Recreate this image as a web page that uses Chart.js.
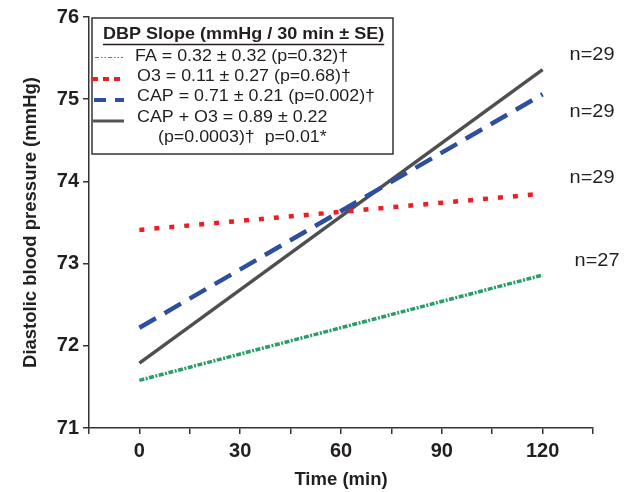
<!DOCTYPE html>
<html>
<head>
<meta charset="utf-8">
<script src="https://cdn.jsdelivr.net/npm/chart.js@4"></script>
<style>
  html, body { margin: 0; padding: 0; background: #fff; }
  #wrap { width: 640px; height: 492px; }
</style>
</head>
<body>
<div id="wrap"><canvas id="grafica" width="640" height="492"></canvas></div>
<script>
// datos
const tiempos = [0, 120];
const faVal = [71.58, 72.86];
const o3Val = [73.41, 73.85];
const capVal = [72.22, 75.06];
const capO3Val = [71.79, 75.36];
const nLabels = ['n=27', 'n=29', 'n=29', 'n=29'];
const xTicks = [0, 30, 60, 90, 120];
const leyendaTitulo = 'DBP Slope (mmHg / 30 min \u00b1 SE)';
const leyendaTextos = [
  'FA = 0.32 \u00b1 0.32 (p=0.32)\u2020',
  'O3 = 0.11 \u00b1 0.27 (p=0.68)\u2020',
  'CAP = 0.71 \u00b1 0.21 (p=0.002)\u2020',
  'CAP + O3 = 0.89 \u00b1 0.22',
  '(p=0.0003)\u2020  p=0.01*'
];

function puntos(vals) {
  return tiempos.map(function(t, i) { return {x: t, y: vals[i]}; });
}

const FUENTE = '"Liberation Sans", Arial, sans-serif';

// etiquetas n= al final de cada linea
const etiquetasN = {
  id: 'etiquetasN',
  afterDatasetsDraw(chart) {
    const ctx = chart.ctx;
    const offs = [[32, -14], [27, -16], [27, 17], [27, -15]];
    ctx.save();
    ctx.font = '19px ' + FUENTE;
    ctx.fillStyle = '#231f20';
    ctx.textBaseline = 'middle';
    ctx.textAlign = 'left';
    chart.data.datasets.forEach(function(ds, i) {
      const meta = chart.getDatasetMeta(i);
      const p = meta.data[meta.data.length - 1];
      ctx.save();
      ctx.translate(p.x + offs[i][0], p.y + offs[i][1]);
      ctx.scale(1.05, 1);
      ctx.fillText(nLabels[i], 0, 0);
      ctx.restore();
    });
    ctx.restore();
  }
};

// leyenda con caja, titulo subrayado
const leyendaCaja = {
  id: 'leyendaCaja',
  afterDraw(chart) {
    const ctx = chart.ctx;
    ctx.save();
    ctx.strokeStyle = '#333';
    ctx.lineWidth = 1.5;
    ctx.fillStyle = '#fff';
    ctx.fillRect(92, 18, 301, 136);
    ctx.strokeRect(92, 18, 301, 136);

    ctx.fillStyle = '#231f20';
    ctx.textBaseline = 'middle';
    ctx.font = 'bold 17px ' + FUENTE;
    ctx.save();
    ctx.translate(103, 34);
    ctx.scale(1.06, 1);
    ctx.fillText(leyendaTitulo, 0, 0);
    const w = ctx.measureText(leyendaTitulo).width * 1.06;
    ctx.restore();
    ctx.lineWidth = 1.5;
    ctx.strokeStyle = '#231f20';
    ctx.beginPath();
    ctx.moveTo(103, 44.5);
    ctx.lineTo(103 + w, 44.5);
    ctx.stroke();

    const muestras = [
      {y: 57.5, color: '#2a9d68', dash: [4, 2, 1.5, 2, 1.5, 2], ancho: 1.2, x0: 95, x1: 123},
      {y: 79, color: '#ee1c24', dash: [6, 5], ancho: 4, x0: 92, x1: 125},
      {y: 100, color: '#2e4ea2', dash: [12, 9], ancho: 4, x0: 94, x1: 124},
      {y: 121, color: '#555555', dash: [], ancho: 3, x0: 93, x1: 124}
    ];
    muestras.forEach(function(m) {
      ctx.strokeStyle = m.color;
      ctx.lineWidth = m.ancho;
      ctx.setLineDash(m.dash);
      ctx.beginPath();
      ctx.moveTo(m.x0, m.y);
      ctx.lineTo(m.x1, m.y);
      ctx.stroke();
    });
    ctx.setLineDash([]);

    ctx.font = '17px ' + FUENTE;
    const filas = [[135, 56], [137, 76], [137, 96], [137, 117], [158, 137]];
    leyendaTextos.forEach(function(t, i) {
      ctx.save();
      ctx.translate(filas[i][0], filas[i][1]);
      ctx.scale(1.05, 1);
      ctx.fillText(t, 0, 0);
      ctx.restore();
    });
    ctx.restore();
  }
};

const data = {
  datasets: [{
    label: 'FA',
    data: puntos(faVal),
    borderColor: '#2a9d68',
    borderWidth: 3.5,
    borderDash: [5, 1.5, 2, 1.5],
    pointRadius: 0,
    tension: 0
  }, {
    label: 'O3',
    data: puntos(o3Val),
    borderColor: '#ee1c24',
    borderWidth: 4.5,
    borderDash: [5, 10],
    pointRadius: 0,
    tension: 0
  }, {
    label: 'CAP',
    data: puntos(capVal),
    borderColor: '#2e4ea2',
    borderWidth: 4.5,
    borderDash: [19, 10],
    pointRadius: 0,
    tension: 0
  }, {
    label: 'CAP + O3',
    data: puntos(capO3Val),
    borderColor: '#4f4f51',
    borderWidth: 3.5,
    pointRadius: 0,
    tension: 0
  }]
};

const config = {
  type: 'line',
  data: data,
  options: {
    responsive: false,
    animation: false,
    layout: { padding: { top: 17, right: 47, left: 0, bottom: 0 } },
    plugins: {
      legend: { display: false },
      tooltip: { enabled: false }
    },
    scales: {
      x: {
        type: 'linear',
        min: -15,
        max: 135,
        afterFit: function(scale) { scale.height = 64; },
        ticks: {
          stepSize: 15,
          padding: 5,
          color: '#231f20',
          font: { family: FUENTE, size: 20, weight: 'bold' },
          callback: function(v) { return xTicks.indexOf(v) >= 0 ? String(v) : ''; }
        },
        grid: { drawOnChartArea: false, tickLength: 6, color: '#333', lineWidth: 1.5 },
        border: { display: true, color: '#333', width: 1.5 },
        title: {
          display: true,
          text: 'Time (min)',
          color: '#231f20',
          font: { family: FUENTE, size: 18.5, weight: 'bold' },
          padding: { top: 0, bottom: 1 }
        }
      },
      y: {
        min: 71,
        max: 76,
        afterFit: function(scale) { scale.width = 89; },
        ticks: {
          stepSize: 1,
          padding: 4,
          color: '#231f20',
          font: { family: FUENTE, size: 20, weight: 'bold' }
        },
        grid: { drawOnChartArea: false, tickLength: 6, color: '#333', lineWidth: 1.5 },
        border: { display: true, color: '#333', width: 1.5 },
        title: {
          display: true,
          text: 'Diastolic blood pressure (mmHg)',
          color: '#231f20',
          font: { family: FUENTE, size: 18.5, weight: 'bold' },
          padding: { top: 20, bottom: 0 }
        }
      }
    }
  },
  plugins: [etiquetasN, leyendaCaja]
};

const grafica = new Chart(document.getElementById('grafica').getContext('2d'), config);
</script>
</body>
</html>
